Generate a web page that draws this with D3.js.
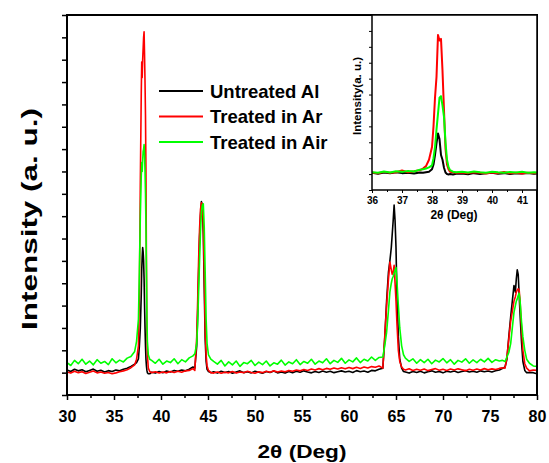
<!DOCTYPE html>
<html>
<head>
<meta charset="utf-8">
<script src="https://cdn.jsdelivr.net/npm/d3@7/dist/d3.min.js"></script>
<style>
  body { margin: 0; background: #fff; }
  svg { display: block; font-family: "Liberation Sans", Arial, sans-serif; font-weight: bold; }
</style>
</head>
<body>
<div id="main"></div>
<script>
// 2-theta sampling of the main pattern (denser around the peaks)
const twoTheta = [
  30.0, 30.4, 30.8, 31.2, 31.6, 32.0, 32.4, 32.8, 33.2, 33.6, 34.0, 34.4, 34.8, 35.2, 35.6, 36.0, 36.4, 36.8, 37.2,
  37.4, 37.6, 37.7, 37.8, 37.9, 37.95, 38.0, 38.05, 38.1, 38.15, 38.2, 38.25, 38.3, 38.35, 38.4, 38.45, 38.5, 38.55, 38.65, 38.8,
  39.0, 39.4, 39.8, 40.2, 40.6, 41.0, 41.4, 41.8, 42.2, 42.6, 43.0, 43.4,
  43.6, 43.8, 43.9, 44.0, 44.1, 44.2, 44.3, 44.4, 44.5, 44.6, 44.7, 44.8, 44.9, 45.05, 45.3,
  45.6, 46.0, 46.4, 46.8, 47.2, 47.6, 48.0, 48.4, 48.8, 49.2, 49.6, 50.0, 50.4, 50.8, 51.2,
  51.6, 52.0, 52.4, 52.8, 53.2, 53.6, 54.0, 54.4, 54.8, 55.2, 55.6, 56.0, 56.4, 56.8, 57.2,
  57.6, 58.0, 58.4, 58.8, 59.2, 59.6, 60.0, 60.4, 60.8, 61.2, 61.6, 62.0, 62.4, 62.8, 63.2,
  63.6, 63.8, 64.0, 64.2, 64.35, 64.5, 64.6, 64.7, 64.8, 64.9, 65.0, 65.1, 65.25, 65.4, 65.6, 65.8,
  66.0, 66.4, 66.8, 67.2, 67.6, 68.0, 68.4, 68.8, 69.2, 69.6, 70.0, 70.4, 70.8, 71.2, 71.6,
  72.0, 72.4, 72.8, 73.2, 73.6, 74.0, 74.4, 74.8, 75.2, 75.6, 76.0, 76.3,
  76.6, 76.8, 77.0, 77.2, 77.4, 77.55, 77.7, 77.8, 77.9, 78.0, 78.1, 78.2, 78.35, 78.5, 78.7, 78.9,
  79.2, 79.6, 80.0
];

const untreatedAl = [
  1.12, 1.05, 1.15, 1.08, 1.13, 1.04, 1.10, 1.16, 1.06, 1.11, 1.03, 1.09, 1.05, 1.12, 1.08, 1.15, 1.20, 1.28, 1.38,
  1.45, 1.62, 2.2, 3.0, 4.5, 5.6, 6.2, 6.6, 6.4, 6.0, 5.2, 4.0, 3.0, 2.2, 1.6, 1.3, 1.1, 1.0, 0.95, 0.95,
  1.02, 0.98, 1.05, 1.00, 1.07, 1.03, 1.10, 1.06, 1.12, 1.08, 1.15, 1.25,
  1.2, 2.2, 3.6, 5.4, 7.0, 8.0, 8.65, 8.5, 7.2, 4.8, 2.5, 1.5, 1.15, 1.05, 1.0,
  1.04, 0.98, 1.06, 1.01, 1.05, 0.97, 1.03, 1.08, 1.00, 1.04, 0.99, 1.06, 1.02, 0.97, 1.05,
  1.01, 1.07, 0.99, 1.03, 0.98, 1.05, 1.00, 1.06, 1.02, 1.08, 1.03, 0.99, 1.05, 1.01, 1.07,
  1.02, 1.06, 1.00, 1.04, 1.08, 1.03, 1.06, 1.01, 1.09, 1.04, 1.07, 1.02, 1.10, 1.08, 1.15,
  1.2, 2.5, 4.2, 5.5, 6.0, 6.6, 7.2, 7.8, 8.5, 7.8, 6.6, 4.5, 2.6, 1.6, 1.2, 1.05,
  1.03, 0.98, 1.05, 1.01, 1.06, 0.99, 1.04, 1.08, 1.02, 1.05, 0.99, 1.06, 1.03, 1.07, 1.01,
  1.05, 1.09, 1.03, 1.06, 1.02, 1.08, 1.04, 1.07, 1.03, 1.09, 1.12, 1.18,
  1.25, 1.6, 2.6, 3.5, 4.3, 4.9, 4.6, 5.2, 5.6, 5.4, 4.5, 3.6, 2.4, 1.5, 1.1, 1.0,
  1.0, 1.0, 0.95
];

const treatedAr = [
  1.03, 0.98, 1.06, 1.00, 1.04, 0.96, 1.02, 1.07, 0.99, 1.03, 0.97, 1.01, 0.95, 0.99, 1.04, 1.08, 1.13, 1.22, 1.35,
  1.6, 2.2, 4.5, 9.5, 13.5, 14.9, 14.2, 15.0, 15.5, 16.0, 16.25, 15.2, 14.0, 12.5, 10.0, 6.0, 3.0, 1.8, 1.2, 1.05,
  1.00, 1.04, 0.98, 1.03, 0.99, 1.05, 1.01, 1.06, 1.02, 1.08, 1.10, 1.18,
  1.1, 2.6, 4.2, 6.0, 7.4, 8.3, 8.6, 8.5, 7.6, 5.5, 3.0, 1.8, 1.3, 1.1, 1.0,
  0.98, 1.03, 0.97, 1.02, 0.99, 1.05, 0.98, 1.03, 1.00, 1.06, 1.01, 0.97, 1.04, 1.00, 1.06,
  1.02, 1.08, 1.03, 1.07, 1.04, 1.10, 1.06, 1.12, 1.08, 1.14, 1.10, 1.16, 1.12, 1.18, 1.13,
  1.19, 1.15, 1.21, 1.16, 1.22, 1.17, 1.23, 1.18, 1.24, 1.19, 1.25, 1.21, 1.27, 1.24, 1.30,
  1.2, 2.6, 4.0, 5.2, 5.95, 5.6, 5.4, 5.5, 5.8, 5.0, 4.2, 3.2, 2.0, 1.5, 1.25, 1.15,
  1.12, 1.17, 1.10, 1.15, 1.11, 1.16, 1.09, 1.14, 1.18, 1.11, 1.15, 1.10, 1.16, 1.12, 1.17,
  1.13, 1.09, 1.15, 1.11, 1.16, 1.12, 1.18, 1.13, 1.17, 1.14, 1.19, 1.22,
  1.2, 1.7, 2.5, 3.3, 3.8, 4.2, 4.4, 4.6, 4.7, 4.75, 4.7, 4.2, 3.0, 2.0, 1.4, 1.2,
  1.08, 1.12, 1.1
];

const treatedAir = [
  1.45, 1.32, 1.55, 1.40, 1.60, 1.38, 1.52, 1.35, 1.58, 1.42, 1.50, 1.36, 1.62, 1.44, 1.56, 1.48, 1.65, 1.72, 1.95,
  2.4, 3.4, 5.5, 8.0, 9.8, 10.4, 10.0, 10.5, 10.9, 11.0, 11.2, 10.8, 10.0, 9.0, 7.5, 5.5, 3.5, 2.4, 1.8, 1.6,
  1.55, 1.42, 1.60, 1.38, 1.52, 1.45, 1.62, 1.40, 1.58, 1.48, 1.66, 1.75,
  1.85, 2.3, 3.2, 4.6, 6.0, 7.3, 8.2, 8.5, 8.55, 7.5, 5.5, 3.4, 2.3, 1.8, 1.6,
  1.50, 1.38, 1.55, 1.30, 1.48, 1.35, 1.52, 1.28, 1.45, 1.40, 1.55, 1.32, 1.47, 1.36, 1.52,
  1.30, 1.44, 1.38, 1.56, 1.34, 1.48, 1.40, 1.58, 1.36, 1.50, 1.42, 1.60, 1.38, 1.52, 1.44,
  1.62, 1.40, 1.55, 1.46, 1.64, 1.42, 1.57, 1.48, 1.66, 1.45, 1.60, 1.52, 1.70, 1.55, 1.68,
  1.7, 2.2, 2.8, 3.8, 4.6, 5.0, 5.2, 5.3, 5.45, 5.6, 5.7, 5.1, 4.0, 3.0, 2.2, 1.8,
  1.65, 1.50, 1.62, 1.42, 1.58, 1.45, 1.60, 1.40, 1.56, 1.48, 1.63, 1.44, 1.58, 1.38, 1.55,
  1.47, 1.62, 1.42, 1.57, 1.45, 1.60, 1.48, 1.64, 1.46, 1.58, 1.52, 1.55,
  1.5, 1.7, 1.9, 2.3, 3.1, 3.7, 4.0, 4.2, 4.3, 4.45, 4.55, 4.2, 3.3, 2.6, 2.0, 1.6,
  1.42, 1.30, 1.28
];

// inset: zoom on the (111) reflection
const insetTheta = [
  36.0, 36.2, 36.4, 36.6, 36.8, 37.0, 37.2, 37.4, 37.6,
  37.7, 37.8, 37.9, 38.0, 38.05, 38.1, 38.15, 38.2, 38.25, 38.3, 38.35, 38.4, 38.45, 38.5, 38.55, 38.6, 38.7, 38.8,
  39.0, 39.2, 39.4, 39.6, 39.8, 40.0, 40.2, 40.4, 40.6, 40.8, 41.0, 41.2, 41.4,
  41.5
];
const insetUntreated = [
  1.08, 1.02, 1.10, 1.05, 1.12, 1.06, 1.09, 1.04, 1.10,
  1.08, 1.12, 1.15, 1.3, 1.6, 2.2, 2.95, 3.55, 3.2, 2.2, 1.9, 1.4, 1.1, 1.0, 0.98, 1.0, 0.97, 1.02,
  1.04, 0.99, 1.06, 1.01, 1.05, 1.08, 1.02, 1.06, 1.00, 1.05, 1.03, 1.07, 1.02,
  1.04
];
const insetAr = [
  1.10, 1.05, 1.14, 1.08, 1.12, 1.22, 1.12, 1.18, 1.25,
  1.35, 1.5, 1.9, 2.7, 4.0, 5.8, 7.1, 9.75, 9.4, 9.5, 7.5, 5.0, 2.6, 1.6, 1.3, 1.15, 1.12, 1.08,
  1.10, 1.06, 1.12, 1.08, 1.04, 1.10, 1.06, 1.13, 1.05, 1.09, 1.04, 1.08, 1.06,
  1.07
];
const insetAir = [
  1.12, 1.08, 1.16, 1.10, 1.18, 1.14, 1.20, 1.16, 1.28,
  1.3, 1.35, 1.42, 1.55, 2.0, 2.7, 3.8, 4.8, 5.8, 5.9, 5.3, 4.6, 3.0, 1.9, 1.45, 1.25, 1.15, 1.12,
  1.14, 1.10, 1.16, 1.12, 1.09, 1.15, 1.11, 1.08, 1.13, 1.10, 1.14, 1.09, 1.12,
  1.1
];

const mainTicks = [30, 35, 40, 45, 50, 55, 60, 65, 70, 75, 80];
const insetTicks = [36, 37, 38, 39, 40, 41];
const legendLabels = ["Untreated Al", "Treated in Ar", "Treated in Air"];
const seriesColors = ["#000000", "#ff0000", "#00ff00"];

const W = 549, H = 463;
const plot = {left: 67, right: 537, top: 15, bottom: 395};
const ins = {left: 372, right: 537, top: 15, bottom: 190};

const svg = d3.select("#main").append("svg")
    .attr("width", W)
    .attr("height", H);

const x = d3.scaleLinear().domain([30, 80]).range([plot.left, plot.right]);
const y = d3.scaleLinear().domain([0, 17]).range([plot.bottom, plot.top]);

svg.append("clipPath").attr("id", "clipMain")
   .append("rect")
   .attr("x", plot.left).attr("y", plot.top)
   .attr("width", plot.right - plot.left).attr("height", plot.bottom - plot.top);

const mainSeries = [untreatedAl, treatedAr, treatedAir];
const line = d3.line()
    .x(d => x(d[0]))
    .y(d => y(d[1]));

const gLines = svg.append("g").attr("clip-path", "url(#clipMain)");
mainSeries.forEach((s, i) => {
    gLines.append("path")
        .datum(twoTheta.map((t, k) => [t, s[k]]).filter(d => d[1] != null))
        .attr("fill", "none")
        .attr("stroke", seriesColors[i])
        .attr("stroke-width", 1.6)
        .attr("stroke-linejoin", "round")
        .attr("d", line);
});

// x axis: minor then major ticks
const minorX = d3.range(32.5, 80, 5);
svg.append("g")
   .attr("transform", `translate(0,${plot.bottom})`)
   .call(d3.axisBottom(x).tickValues(minorX).tickSize(3).tickFormat(""))
   .call(g => g.select(".domain").remove())
   .selectAll("line").attr("stroke-width", 1.5);

svg.append("g")
   .attr("transform", `translate(0,${plot.bottom})`)
   .call(d3.axisBottom(x).tickValues(mainTicks).tickSize(5).tickPadding(10.5).tickFormat(d3.format("d")))
   .call(g => g.select(".domain").remove())
   .call(g => g.selectAll("line").attr("stroke-width", 1.5))
   .selectAll("text")
   .style("font-size", "16px")
   .style("font-weight", "bold")
   .style("font-family", "'Liberation Sans', Arial, sans-serif")
   .attr("fill", "#000");

svg.append("g")
   .attr("transform", `translate(${plot.left},0)`)
   .call(d3.axisLeft(y).tickValues(d3.range(0, 18)).tickSize(5).tickFormat(""))
   .call(g => g.select(".domain").remove())
   .selectAll("line").attr("stroke-width", 1.5);

svg.append("rect")
   .attr("x", plot.left).attr("y", plot.top)
   .attr("width", plot.right - plot.left).attr("height", plot.bottom - plot.top)
   .attr("fill", "none").attr("stroke", "#000").attr("stroke-width", 2);

// axis titles
svg.append("text")
   .attr("x", 302).attr("y", 458)
   .attr("text-anchor", "middle")
   .attr("textLength", 89).attr("lengthAdjust", "spacingAndGlyphs")
   .style("font-size", "19px")
   .text("2θ (Deg)");

svg.append("text")
   .attr("transform", "translate(37,219) rotate(-90)")
   .attr("text-anchor", "middle")
   .attr("textLength", 222).attr("lengthAdjust", "spacingAndGlyphs")
   .style("font-size", "22px")
   .text("Intensity (a. u.)");

// legend
const legend = svg.append("g");
legendLabels.forEach((label, i) => {
    const ly = 91 + i * 25.5;
    legend.append("line")
        .attr("x1", 159).attr("x2", 203)
        .attr("y1", ly).attr("y2", ly)
        .attr("stroke", seriesColors[i])
        .attr("stroke-width", 2);
    legend.append("text")
        .attr("x", 210).attr("y", ly)
        .attr("dy", "0.36em")
        .style("font-size", "18.5px")
        .text(label);
});

// inset
const xi = d3.scaleLinear().domain([36, 41.5]).range([ins.left, ins.right]);
const yi = d3.scaleLinear().domain([0, 11]).range([ins.bottom, ins.top]);

svg.append("rect")
   .attr("x", ins.left).attr("y", ins.top)
   .attr("width", ins.right - ins.left).attr("height", ins.bottom - ins.top)
   .attr("fill", "#fff");

svg.append("clipPath").attr("id", "clipInset")
   .append("rect")
   .attr("x", ins.left).attr("y", ins.top)
   .attr("width", ins.right - ins.left).attr("height", ins.bottom - ins.top);

const insetSeries = [insetUntreated, insetAr, insetAir];
const lineInset = d3.line()
    .x(d => xi(d[0]))
    .y(d => yi(d[1]));

const gInset = svg.append("g").attr("clip-path", "url(#clipInset)");
insetSeries.forEach((s, i) => {
    gInset.append("path")
        .datum(insetTheta.map((t, k) => [t, s[k]]))
        .attr("fill", "none")
        .attr("stroke", seriesColors[i])
        .attr("stroke-width", 2)
        .attr("stroke-linejoin", "round")
        .attr("d", lineInset);
});

svg.append("g")
   .attr("transform", `translate(0,${ins.bottom})`)
   .call(d3.axisBottom(xi).tickValues(d3.range(36.5, 41.5, 1)).tickSize(2).tickFormat(""))
   .call(g => g.select(".domain").remove());

svg.append("g")
   .attr("transform", `translate(0,${ins.bottom})`)
   .call(d3.axisBottom(xi).tickValues(insetTicks).tickSize(3).tickPadding(4).tickFormat(d3.format("d")))
   .call(g => g.select(".domain").remove())
   .selectAll("text")
   .style("font-size", "10px")
   .style("font-weight", "bold")
   .style("font-family", "'Liberation Sans', Arial, sans-serif")
   .attr("fill", "#000");

svg.append("g")
   .attr("transform", `translate(${ins.left},0)`)
   .call(d3.axisLeft(yi).tickValues(d3.range(0, 12)).tickSize(3).tickFormat(""))
   .call(g => g.select(".domain").remove());

svg.append("rect")
   .attr("x", ins.left).attr("y", ins.top)
   .attr("width", ins.right - ins.left).attr("height", ins.bottom - ins.top)
   .attr("fill", "none").attr("stroke", "#000").attr("stroke-width", 1.5);

svg.append("text")
   .attr("x", 454).attr("y", 219)
   .attr("text-anchor", "middle")
   .style("font-size", "12px")
   .text("2θ (Deg)");

svg.append("text")
   .attr("transform", "translate(361,96) rotate(-90)")
   .attr("text-anchor", "middle")
   .attr("textLength", 78).attr("lengthAdjust", "spacingAndGlyphs")
   .style("font-size", "10px")
   .text("Intensity(a. u.)");
</script>
</body>
</html>
